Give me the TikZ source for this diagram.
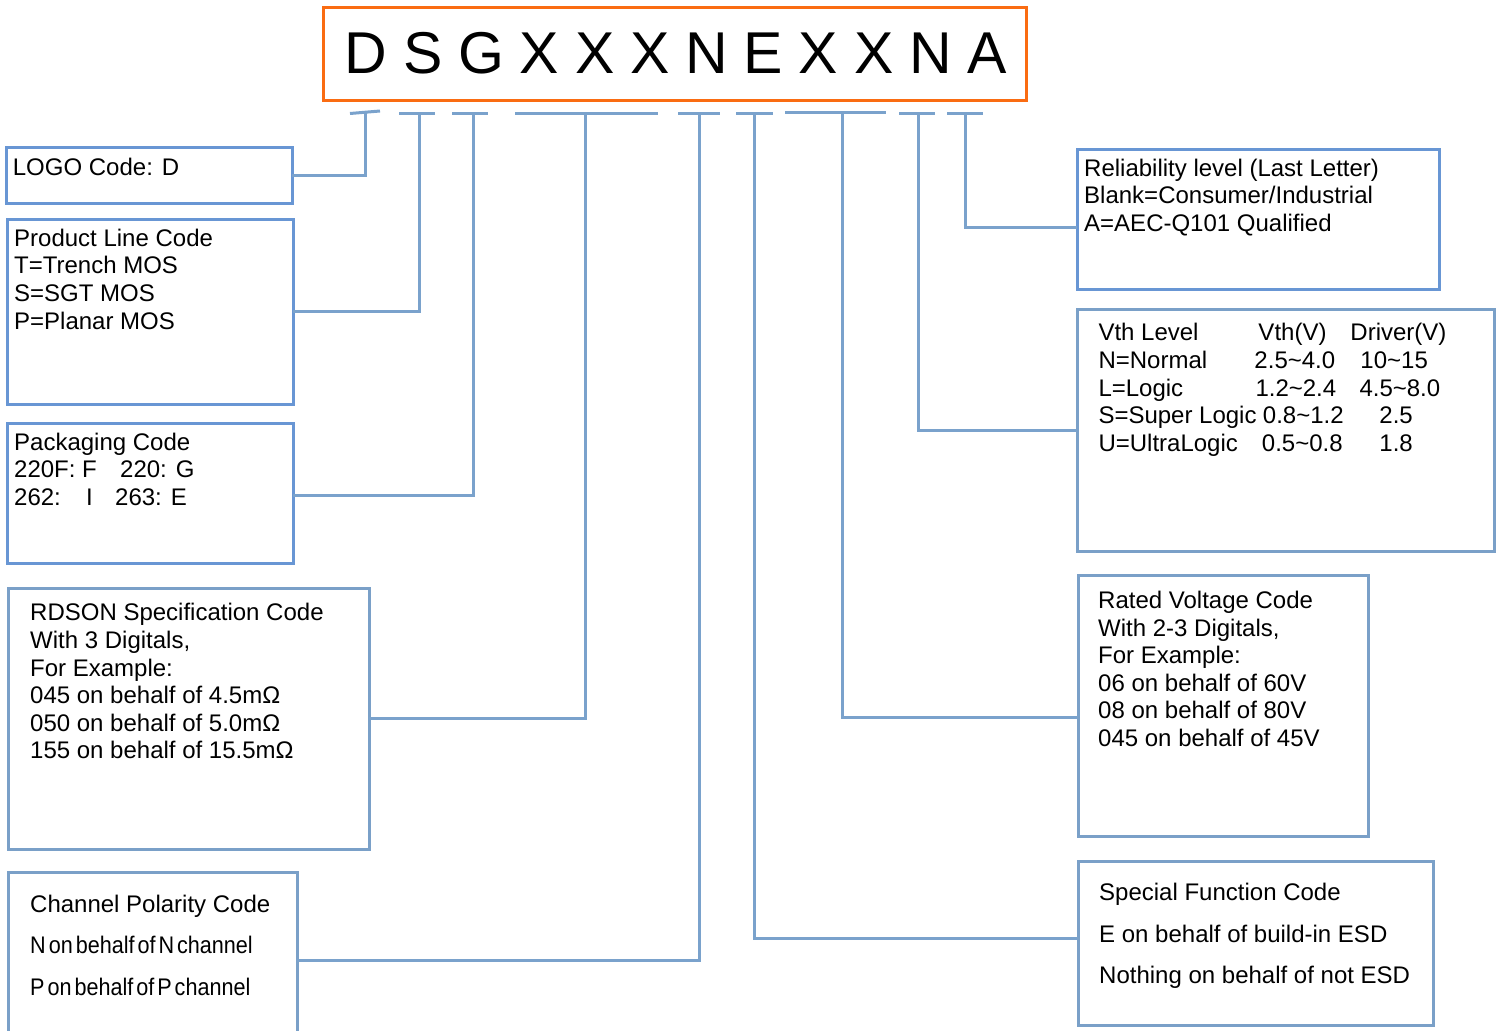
\documentclass[tikz,border=0pt]{standalone}
\usepackage{fontspec}
\setmainfont{Liberation Sans}
\usetikzlibrary{calc}
\definecolor{orangeB}{RGB}{250,108,18}
\definecolor{boxA}{RGB}{104,150,212}
\definecolor{boxB}{RGB}{122,160,200}
\definecolor{lineB}{RGB}{122,162,204}
\tikzset{
  boxa/.style={draw=boxA, line width=3pt, rectangle, inner sep=0pt, outer sep=0pt, anchor=north west},
  boxb/.style={draw=boxB, line width=3pt, rectangle, inner sep=0pt, outer sep=0pt, anchor=north west},
  conn/.style={draw=lineB, line width=3pt},
  txt/.style={anchor=north west, inner sep=0pt, align=left, font=\fontsize{24}{27.6}\selectfont},
  txtwide/.style={anchor=north west, inner sep=0pt, align=left, font=\fontsize{24}{41.5}\selectfont},
}
\begin{document}
\begin{tikzpicture}[x=1pt,y=-1pt]
\useasboundingbox (0,0) rectangle (1500,1031);
\fill[white] (0,0) rectangle (1500,1031);

% title
\draw[draw=orangeB, line width=3pt] (323.5,7.5) rectangle (1026.5,100.5);
\node[anchor=base west, inner sep=0pt, font=\fontsize{59}{70}\selectfont] (title) at (344.5,73.3)
  {\spaceskip=15.8pt plus 0pt minus 0pt D S G X X X N E X X N A};

% boxes
\node[boxa, minimum width=286, minimum height=55.5] (logo) at (6,147.5) {};
\node[boxa, minimum width=286, minimum height=184.5] (prod) at (7,219.5) {};
\node[boxa, minimum width=286, minimum height=140.5] (pack) at (7,423) {};
\node[boxb, minimum width=361, minimum height=261.5] (rdson) at (8,588) {};
\node[boxb, minimum width=289, minimum height=173] (chan) at (8,872) {};
\node[boxa, minimum width=362, minimum height=140.5] (rel) at (1077,149) {};
\node[boxb, minimum width=417, minimum height=242.5] (vth) at (1077,309) {};
\node[boxb, minimum width=290, minimum height=261.5] (rated) at (1078,575) {};
\node[boxb, minimum width=355, minimum height=164] (spec) at (1078,861) {};

% texts
\node[txt] (logoT) at (12.7,155.7) {\strut LOGO Code: D};
\node[txt] (prodT) at (14,226.7) {\strut Product Line Code\\T=Trench MOS\\S=SGT MOS\\P=Planar MOS};
\node[txt] (packT) at (14,430.7) {\strut Packaging Code\\\makebox[106pt][l]{220F: F}220: G\\\makebox[72pt][l]{262:}\makebox[29pt][l]{I}263: E};
\node[txt] (rdsonT) at (30,601.4) {\strut RDSON Specification Code\\With 3 Digitals,\\For Example:\\045 on behalf of 4.5mΩ\\050 on behalf of 5.0mΩ\\155 on behalf of 15.5mΩ};
\node[txtwide] (chanT) at (30,882.8) {\strut Channel Polarity Code\\\scalebox{0.9}[1]{\spaceskip=3.3pt plus 0pt minus 0pt N on behalf of N channel}\\\scalebox{0.9}[1]{\spaceskip=3.3pt plus 0pt minus 0pt P on behalf of P channel}};
\node[txt] (relT) at (1084,156.7) {\strut Reliability level (Last Letter)\\Blank=Consumer/Industrial\\A=AEC-Q101 Qualified};
\node[txt] (vthT) at (1098.3,321.4) {\strut\makebox[160pt][l]{Vth Level}\makebox[92pt][l]{Vth(V)}Driver(V)\\
\makebox[156pt][l]{N=Normal}\makebox[106pt][l]{2.5\textasciitilde 4.0}10\textasciitilde 15\\
\makebox[157pt][l]{L=Logic}\makebox[104pt][l]{1.2\textasciitilde 2.4}4.5\textasciitilde 8.0\\
\makebox[164.5pt][l]{S=Super Logic}\makebox[116.5pt][l]{0.8\textasciitilde 1.2}2.5\\
\makebox[163.5pt][l]{U=UltraLogic}\makebox[117.5pt][l]{0.5\textasciitilde 0.8}1.8};
\node[txt] (ratedT) at (1098,589) {\strut Rated Voltage Code\\With 2-3 Digitals,\\For Example:\\06 on behalf of 60V\\08 on behalf of 80V\\045 on behalf of 45V};
\node[txtwide] (specT) at (1099,871.6) {\strut Special Function Code\\E on behalf of build-in ESD\\Nothing on behalf of not ESD};

% tick bars under the code
\coordinate (b1a) at (350,113.5); \coordinate (b1b) at (380,111);
\coordinate (b2a) at (399,113.5); \coordinate (b2b) at (435,113.5);
\coordinate (b3a) at (452,113.5); \coordinate (b3b) at (488,113.5);
\coordinate (b4a) at (515,113.5); \coordinate (b4b) at (658,113.5);
\coordinate (b5a) at (678,113.5); \coordinate (b5b) at (720,113.5);
\coordinate (b6a) at (736,113.5); \coordinate (b6b) at (773,113.5);
\coordinate (b7a) at (785,112.7); \coordinate (b7b) at (886,112.7);
\coordinate (b8a) at (899,113.5); \coordinate (b8b) at (935,113.5);
\coordinate (b9a) at (947,113.5); \coordinate (b9b) at (983,113.5);
\foreach \i in {1,...,9} { \draw[conn] (b\i a) -- (b\i b); }

\coordinate (t1) at (365,112.5);
\coordinate (t2) at (419,113.5);
\coordinate (t3) at (473,113.5);
\coordinate (t4) at (585.5,113.5);
\coordinate (t5) at (699,113.5);
\coordinate (t6) at (754.5,113.5);
\coordinate (t7) at (842,112.7);
\coordinate (t8) at (918,113.5);
\coordinate (t9) at (965,113.5);

% connectors
\draw[conn] (logo.east) -| (t1);
\draw[conn] (prod.east) -| (t2);
\draw[conn] ([yshift=-2.5pt]pack.east) -| (t3);
\draw[conn] (rdson.east) -| (t4);
\draw[conn] ([yshift=-1.5pt]chan.east) -| (t5);
\draw[conn] ([yshift=5pt]spec.west) -| (t6);
\draw[conn] ([yshift=-12pt]rated.west) -| (t7);
\draw[conn] (vth.west) -| (t8);
\draw[conn] ([yshift=-8pt]rel.west) -| (t9);
\end{tikzpicture}
\end{document}
